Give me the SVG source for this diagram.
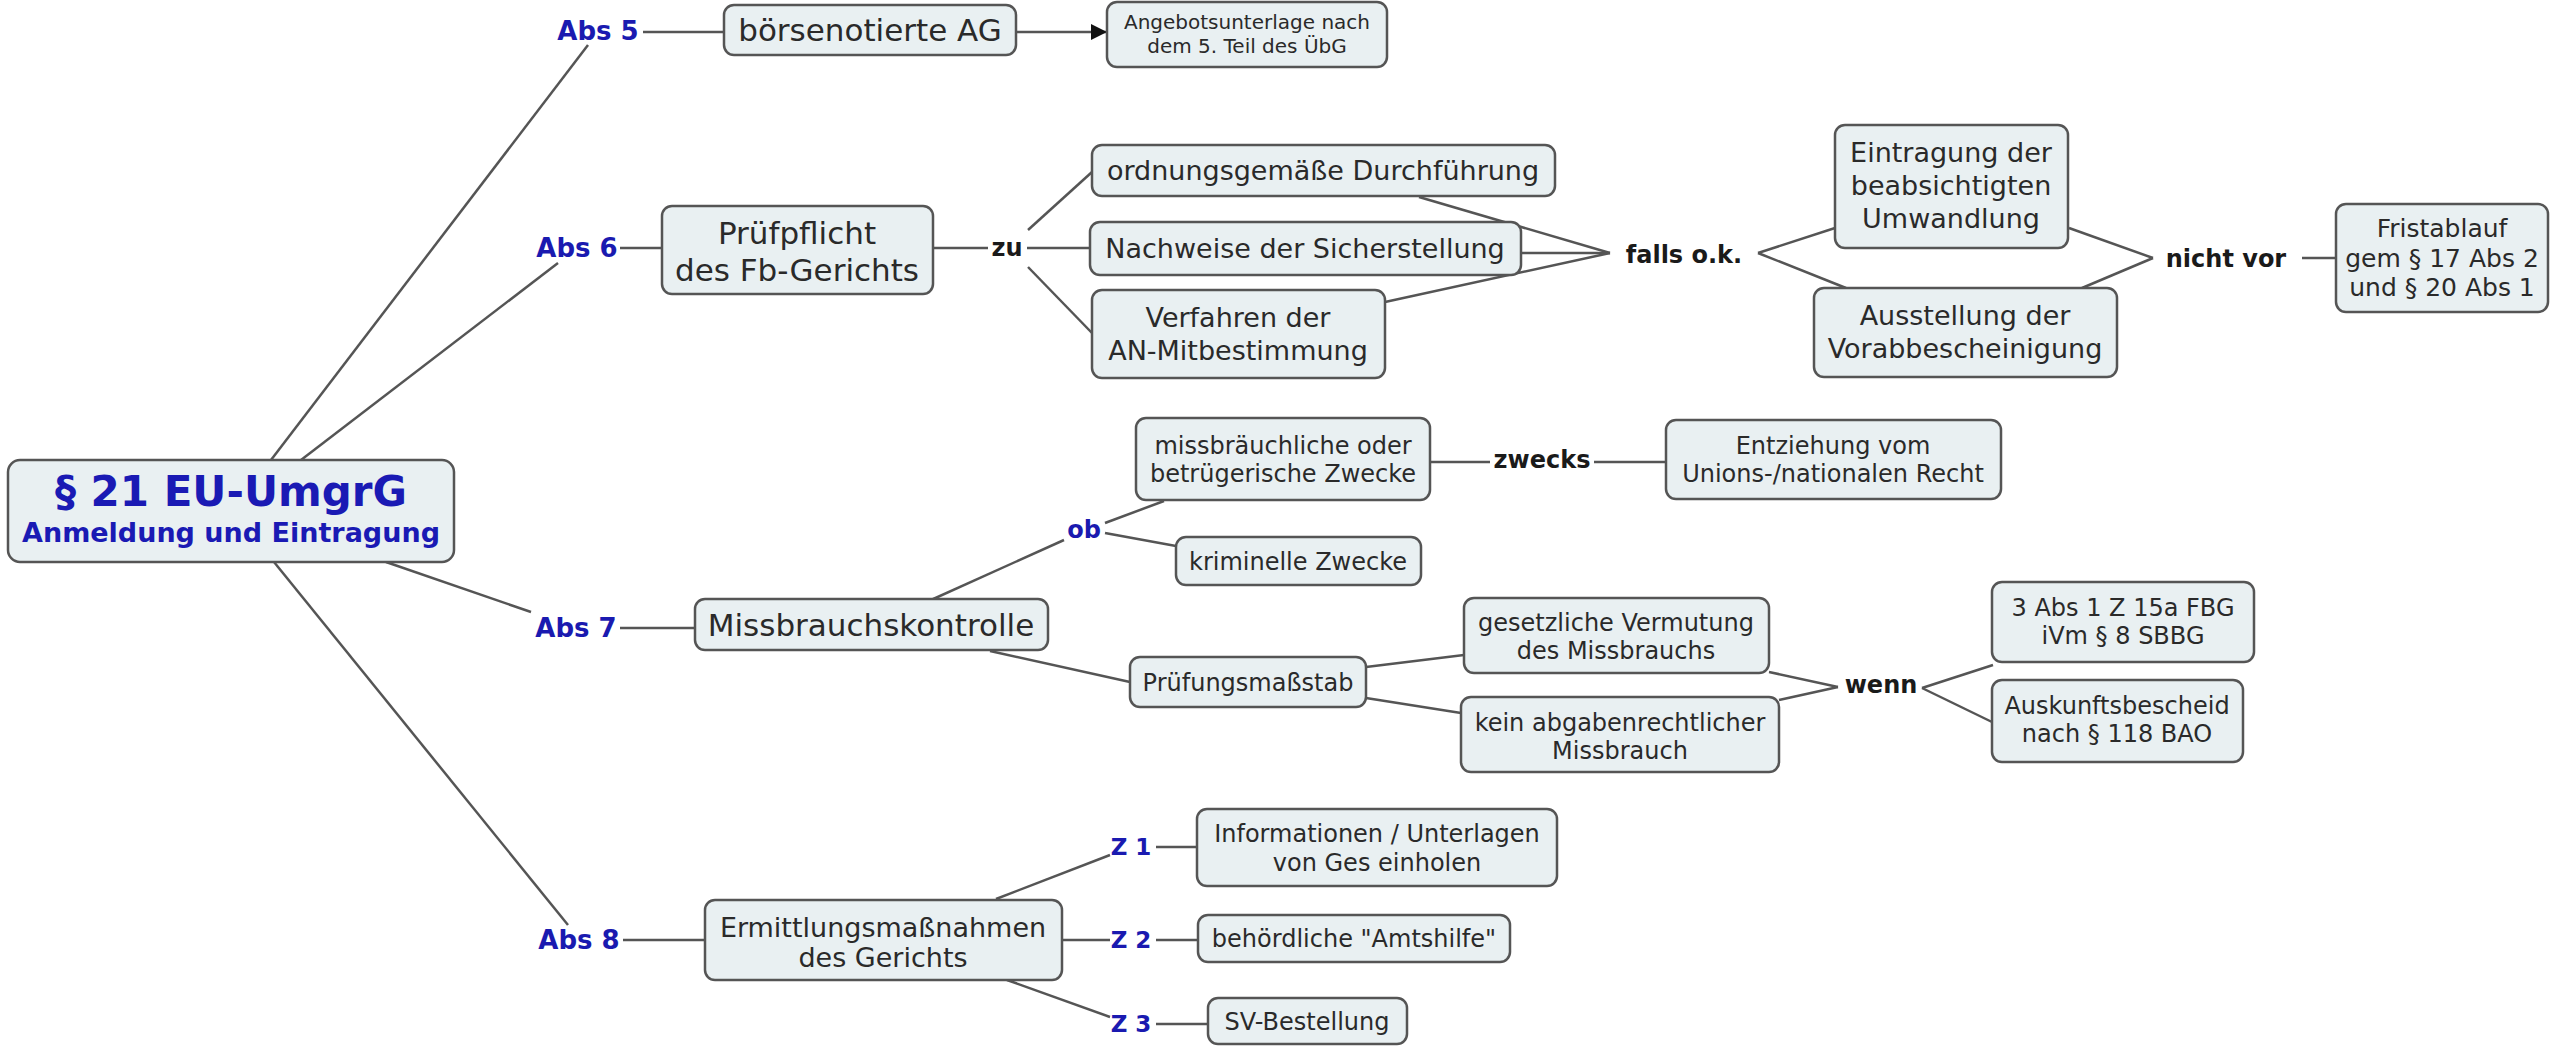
<svg xmlns="http://www.w3.org/2000/svg" width="2551" height="1046" viewBox="0 0 2551 1046">
  <style>
    .box { fill: #e9f0f2; stroke: #555; stroke-width: 2.5; }
    .t { font-family: "DejaVu Sans", Verdana, sans-serif; fill: #2a2a2a; text-anchor: middle; }
    .lbl { font-family: "DejaVu Sans", Verdana, sans-serif; font-weight: bold; fill: #1a1a1a; text-anchor: middle; font-size: 24px; }
    .abs { font-family: "DejaVu Sans", Verdana, sans-serif; font-weight: bold; fill: #1a1ab0; text-anchor: middle; font-size: 26px; }
    .z { font-family: "DejaVu Sans", Verdana, sans-serif; font-weight: bold; fill: #1a1ab0; text-anchor: middle; font-size: 23px; }
    .root { font-family: "DejaVu Sans", Verdana, sans-serif; font-weight: bold; fill: #1a1ab4; text-anchor: middle; }
    .f31 { font-size: 31px; }
    .f27 { font-size: 27px; }
    .f25 { font-size: 25px; }
    .f24 { font-size: 24px; }
    .f20 { font-size: 20px; }
    .conn line { stroke: #555; stroke-width: 2.5; fill: none; }
  </style>
  <defs>
    <marker id="arrow" markerUnits="userSpaceOnUse" markerWidth="18" markerHeight="18" refX="16" refY="9" orient="auto">
      <path d="M0,1 L16,9 L0,17 Z" fill="#111"/>
    </marker>
  </defs>
  <rect width="2551" height="1046" fill="#ffffff"/>

  <!-- connectors -->
  <g id="connectors" class="conn">
    <!-- root to paragraphs -->
    <line x1="271" y1="460" x2="588" y2="45"/>
    <line x1="301" y1="460" x2="558" y2="263"/>
    <line x1="386" y1="562" x2="531" y2="612"/>
    <line x1="274" y1="562" x2="568" y2="925"/>
    <!-- Abs 5 -->
    <line x1="643" y1="32" x2="724" y2="32"/>
    <line x1="1016" y1="32" x2="1107" y2="32" marker-end="url(#arrow)"/>
    <!-- Abs 6 -->
    <line x1="620" y1="248" x2="662" y2="248"/>
    <line x1="933" y1="248" x2="988" y2="248"/>
    <line x1="1027" y1="248" x2="1090" y2="248"/>
    <line x1="1028" y1="230" x2="1092" y2="172"/>
    <line x1="1028" y1="267" x2="1092" y2="333"/>
    <line x1="1419" y1="197" x2="1610" y2="253"/>
    <line x1="1521" y1="253" x2="1610" y2="253"/>
    <line x1="1385" y1="302" x2="1610" y2="253"/>
    <line x1="1758" y1="253" x2="1835" y2="228"/>
    <line x1="1758" y1="253" x2="1846" y2="288"/>
    <line x1="2069" y1="228" x2="2153" y2="258"/>
    <line x1="2082" y1="288" x2="2153" y2="258"/>
    <line x1="2302" y1="258" x2="2337" y2="258"/>
    <!-- Abs 7 -->
    <line x1="620" y1="628" x2="695" y2="628"/>
    <line x1="931" y1="600" x2="1064" y2="540"/>
    <line x1="1105" y1="523" x2="1164" y2="501"/>
    <line x1="1105" y1="533" x2="1176" y2="546"/>
    <line x1="1430" y1="462" x2="1490" y2="462"/>
    <line x1="1594" y1="462" x2="1666" y2="462"/>
    <line x1="990" y1="651" x2="1130" y2="682"/>
    <line x1="1366" y1="667" x2="1464" y2="655"/>
    <line x1="1366" y1="698" x2="1461" y2="713"/>
    <line x1="1769" y1="672" x2="1838" y2="687"/>
    <line x1="1779" y1="700" x2="1838" y2="687"/>
    <line x1="1922" y1="688" x2="1993" y2="665"/>
    <line x1="1922" y1="688" x2="1992" y2="722"/>
    <!-- Abs 8 -->
    <line x1="623" y1="940" x2="705" y2="940"/>
    <line x1="996" y1="899" x2="1110" y2="855"/>
    <line x1="1062" y1="940" x2="1110" y2="940"/>
    <line x1="1007" y1="980" x2="1110" y2="1017"/>
    <line x1="1156" y1="847" x2="1197" y2="847"/>
    <line x1="1156" y1="940" x2="1198" y2="940"/>
    <line x1="1156" y1="1024" x2="1208" y2="1024"/>
  </g>

  <!-- linking phrases -->
  <g id="labels">
    <text class="abs" x="598" y="40">Abs 5</text>
    <text class="abs" x="577" y="257">Abs 6</text>
    <text class="abs" x="576" y="637">Abs 7</text>
    <text class="abs" x="579" y="949">Abs 8</text>
    <text class="lbl" x="1007" y="256">zu</text>
    <text class="lbl" x="1684" y="263">falls o.k.</text>
    <text class="lbl" x="2226" y="267">nicht vor</text>
    <text class="abs" x="1084" y="538" style="font-size:24px">ob</text>
    <text class="lbl" x="1542" y="468">zwecks</text>
    <text class="lbl" x="1881" y="693">wenn</text>
    <text class="z" x="1131" y="855">Z 1</text>
    <text class="z" x="1131" y="948">Z 2</text>
    <text class="z" x="1131" y="1032">Z 3</text>
  </g>

  <!-- concepts -->
  <g id="root">
    <rect class="box" x="8" y="460" width="446" height="102" rx="12"/>
    <text class="root" x="231" y="506" style="font-size:42px">§ 21 EU-UmgrG</text>
    <text class="root" x="231" y="542" style="font-size:27px">Anmeldung und Eintragung</text>
  </g>

  <g id="boersenotierte-ag">
    <rect class="box" x="724" y="5" width="292" height="50" rx="10"/>
    <text class="t f31" x="870" y="41">börsenotierte AG</text>
  </g>

  <g id="angebotsunterlage">
    <rect class="box" x="1107" y="2" width="280" height="65" rx="10"/>
    <text class="t f20" x="1247" y="29">Angebotsunterlage nach</text>
    <text class="t f20" x="1247" y="53">dem 5. Teil des ÜbG</text>
  </g>

  <g id="pruefpflicht">
    <rect class="box" x="662" y="206" width="271" height="88" rx="10"/>
    <text class="t f31" x="797" y="244">Prüfpflicht</text>
    <text class="t f31" x="797" y="281">des Fb-Gerichts</text>
  </g>

  <g id="durchfuehrung">
    <rect class="box" x="1092" y="145" width="463" height="51" rx="10"/>
    <text class="t f27" x="1323" y="180">ordnungsgemäße Durchführung</text>
  </g>

  <g id="sicherstellung">
    <rect class="box" x="1090" y="222" width="431" height="53" rx="10"/>
    <text class="t f27" x="1305" y="258">Nachweise der Sicherstellung</text>
  </g>

  <g id="mitbestimmung">
    <rect class="box" x="1092" y="290" width="293" height="88" rx="10"/>
    <text class="t f27" x="1238" y="327">Verfahren der</text>
    <text class="t f27" x="1238" y="360">AN-Mitbestimmung</text>
  </g>

  <g id="eintragung">
    <rect class="box" x="1835" y="125" width="233" height="123" rx="10"/>
    <text class="t f27" x="1951" y="162">Eintragung der</text>
    <text class="t f27" x="1951" y="195">beabsichtigten</text>
    <text class="t f27" x="1951" y="228">Umwandlung</text>
  </g>

  <g id="vorabbescheinigung">
    <rect class="box" x="1814" y="288" width="303" height="89" rx="10"/>
    <text class="t f27" x="1965" y="325">Ausstellung der</text>
    <text class="t f27" x="1965" y="358">Vorabbescheinigung</text>
  </g>

  <g id="fristablauf">
    <rect class="box" x="2336" y="204" width="212" height="108" rx="10"/>
    <text class="t f25" x="2442" y="237">Fristablauf</text>
    <text class="t f25" x="2442" y="267">gem § 17 Abs 2</text>
    <text class="t f25" x="2442" y="296">und § 20 Abs 1</text>
  </g>

  <g id="missbrauchskontrolle">
    <rect class="box" x="695" y="599" width="353" height="51" rx="10"/>
    <text class="t f31" x="871" y="636">Missbrauchskontrolle</text>
  </g>

  <g id="missbraeuchliche-zwecke">
    <rect class="box" x="1136" y="418" width="294" height="82" rx="10"/>
    <text class="t f24" x="1283" y="454">missbräuchliche oder</text>
    <text class="t f24" x="1283" y="482">betrügerische Zwecke</text>
  </g>

  <g id="entziehung">
    <rect class="box" x="1666" y="420" width="335" height="79" rx="10"/>
    <text class="t f24" x="1833" y="454">Entziehung vom</text>
    <text class="t f24" x="1833" y="482">Unions-/nationalen Recht</text>
  </g>

  <g id="kriminelle-zwecke">
    <rect class="box" x="1176" y="537" width="245" height="48" rx="10"/>
    <text class="t f24" x="1298" y="570">kriminelle Zwecke</text>
  </g>

  <g id="pruefungsmassstab">
    <rect class="box" x="1130" y="657" width="236" height="50" rx="10"/>
    <text class="t f24" x="1248" y="691">Prüfungsmaßstab</text>
  </g>

  <g id="vermutung">
    <rect class="box" x="1464" y="598" width="305" height="75" rx="10"/>
    <text class="t f24" x="1616" y="631">gesetzliche Vermutung</text>
    <text class="t f24" x="1616" y="659">des Missbrauchs</text>
  </g>

  <g id="kein-missbrauch">
    <rect class="box" x="1461" y="697" width="318" height="75" rx="10"/>
    <text class="t f24" x="1620" y="731">kein abgabenrechtlicher</text>
    <text class="t f24" x="1620" y="759">Missbrauch</text>
  </g>

  <g id="fbg">
    <rect class="box" x="1992" y="582" width="262" height="80" rx="10"/>
    <text class="t f24" x="2123" y="616">3 Abs 1 Z 15a FBG</text>
    <text class="t f24" x="2123" y="644">iVm § 8 SBBG</text>
  </g>

  <g id="auskunftsbescheid">
    <rect class="box" x="1992" y="680" width="251" height="82" rx="10"/>
    <text class="t f24" x="2117" y="714">Auskunftsbescheid</text>
    <text class="t f24" x="2117" y="742">nach § 118 BAO</text>
  </g>

  <g id="ermittlungsmassnahmen">
    <rect class="box" x="705" y="900" width="357" height="80" rx="10"/>
    <text class="t f27" x="883" y="937">Ermittlungsmaßnahmen</text>
    <text class="t f27" x="883" y="967">des Gerichts</text>
  </g>

  <g id="informationen">
    <rect class="box" x="1197" y="809" width="360" height="77" rx="10"/>
    <text class="t f24" x="1377" y="842">Informationen / Unterlagen</text>
    <text class="t f24" x="1377" y="871">von Ges einholen</text>
  </g>

  <g id="amtshilfe">
    <rect class="box" x="1198" y="915" width="312" height="47" rx="10"/>
    <text class="t f24" x="1354" y="947">behördliche "Amtshilfe"</text>
  </g>

  <g id="sv-bestellung">
    <rect class="box" x="1208" y="998" width="199" height="46" rx="10"/>
    <text class="t f24" x="1307" y="1030">SV-Bestellung</text>
  </g>
</svg>
